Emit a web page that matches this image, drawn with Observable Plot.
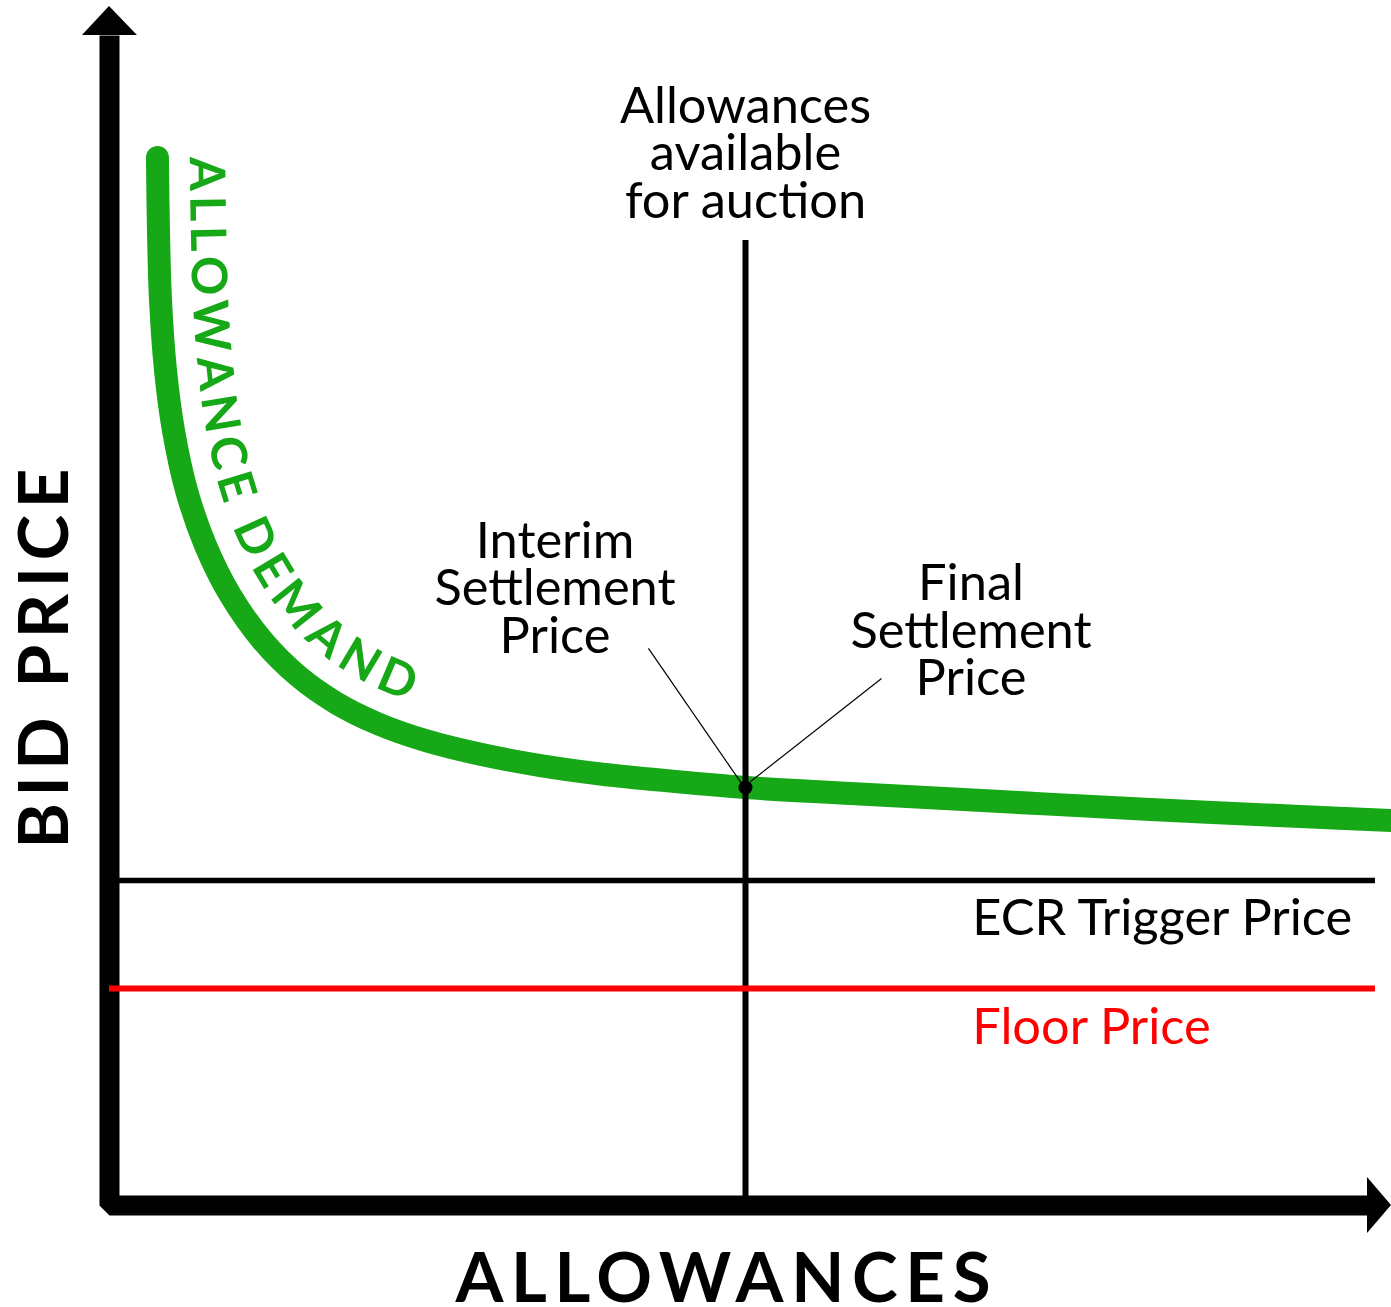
<!DOCTYPE html>
<html><head><meta charset="utf-8">
<script src="https://cdn.jsdelivr.net/npm/d3@7"></script>
<script src="https://cdn.jsdelivr.net/npm/@observablehq/plot@0.6"></script>
<style>body{margin:0;background:#fff}</style>
</head><body><div id="chart"></div>
<script>
// ---- Data (abstract units: allowances 0-100, bid price 0-100) ----
const demandX = [3.74,3.82,3.98,4.37,4.99,6.01,7.49,9.44,11.93,14.66,17.63,20.98,24.65,28.94,33.62,38.30,43.76,49.61,57.80,69.50,81.20,92.90,100.0];
const demandY = [87.41,81.32,75.48,69.64,64.64,59.63,55.05,50.88,47.12,44.20,41.95,40.16,38.78,37.63,36.69,35.99,35.40,34.86,34.36,33.69,33.03,32.44,32.11];
const demandLabel = "ALLOWANCE DEMAND";
const supplyQty = 49.61;          // allowances available for auction
const supplyTop = 80.48;
const settlePrice = 34.86;        // settlement price (intersection)
const ecrPrice = 27.11;           // ECR trigger price
const floorPrice = 18.10;         // floor price
const lineEnd = 98.75;
const axisX = [0, 0, 98.13];
const axisY = [97.58, 0, 0];
const arrowUpY = [97.58, 100];
const arrowUpX1 = [-2.11, 0];
const arrowUpX2 = [2.18, 0];
const arrowRightX = [98.13, 100];
const arrowRightY1 = [2.34, 0];
const arrowRightY2 = [-2.34, 0];
const supplyText = "Allowances\navailable\nfor auction";
const interimText = "Interim\nSettlement\nPrice";
const finalText = "Final\nSettlement\nPrice";
const ecrText = "ECR Trigger Price";
const floorText = "Floor Price";
const xTitle = "ALLOWANCES";
const yTitle = "BID PRICE";
const interimPos = [34.75, 46.12];
const finalPos = [67.20, 42.54];
const ecrPos = [67.30, 22.52];
const floorPos = [67.30, 13.51];
const supplyTextY = 82.40;
const xTitlePos = [26.99, -8.09];
const yTitlePos = [-4.99, 29.77];
const leaderInterim = [42.04, 46.46, 49.30, 35.20];
const leaderFinal = [60.22, 43.95, 50.0, 35.36];

// ---- Layout ----
const W = 1391, H = 1307;
const mL = 109, mR = 0, mT = 6, mB = 102;
const GREEN = "#17a817";
const FONT = "Lato";

const ctx = document.createElement("canvas").getContext("2d");
function tw(text, font) { ctx.font = font; return ctx.measureText(text).width; }

const F = 50 * (375 / tw(ecrText, `50px ${FONT}`) + 246 / tw("Settlement", `50px ${FONT}`)) / 2;
const LH = 47.5 / F;
const FB = 69;
const spX = (535 - tw(xTitle, `bold ${FB}px ${FONT}`)) / (xTitle.length - 1);
const spY = (380 - tw(yTitle, `bold ${FB}px ${FONT}`)) / (yTitle.length - 1);

// ---- Text along demand curve ----
const xS = d3.scaleLinear().domain([0, 100]).range([mL, W - mR]);
const yS = d3.scaleLinear().domain([0, 100]).range([H - mB, mT]);
const demand = demandX.map((x, i) => ({x, y: demandY[i]}));
const FC = 49, OFF = 48, TARGET = 612;
const curveLetters = (() => {
  const ns = "http://www.w3.org/2000/svg";
  const tmp = document.createElementNS(ns, "svg");
  document.body.appendChild(tmp);
  const path = document.createElementNS(ns, "path");
  path.setAttribute("d", d3.line().curve(d3.curveCatmullRom)(demand.map(d => [xS(d.x), yS(d.y)])));
  tmp.appendChild(path);
  const L = path.getTotalLength(), N = 1000;
  const s = d3.range(N + 1).map(i => { const p = path.getPointAtLength(L * i / N); return [p.x, p.y]; });
  tmp.remove();
  const off = s.map((p, i) => {
    const a = s[Math.max(0, i - 1)], b = s[Math.min(N, i + 1)];
    const ang = Math.atan2(b[1] - a[1], b[0] - a[0]);
    return {x: p[0] + Math.sin(ang) * OFF, y: p[1] - Math.cos(ang) * OFF, ang};
  });
  const cum = [0];
  for (let i = 1; i <= N; i++) cum.push(cum[i - 1] + Math.hypot(off[i].x - off[i - 1].x, off[i].y - off[i - 1].y));
  const font = `bold ${FC}px ${FONT}`;
  const chars = [...demandLabel];
  const widths = chars.map(c => tw(c, font));
  const sp = (TARGET - d3.sum(widths)) / (chars.length - 1);
  const out = [];
  let pos = 0;
  chars.forEach((c, k) => {
    const mid = pos + widths[k] / 2;
    pos += widths[k] + sp;
    if (c === " ") return;
    let i = d3.bisectLeft(cum, mid);
    i = Math.min(Math.max(i, 1), N);
    const t = (mid - cum[i - 1]) / (cum[i] - cum[i - 1] || 1);
    const px = off[i - 1].x + t * (off[i].x - off[i - 1].x);
    const py = off[i - 1].y + t * (off[i].y - off[i - 1].y);
    out.push({c, x: xS.invert(px), y: yS.invert(py), r: off[i].ang * 180 / Math.PI});
  });
  return out;
})();

const axisPts = axisX.map((x, i) => ({x, y: axisY[i]}));
const upHead = arrowUpY.map((y, i) => ({y, x1: arrowUpX1[i], x2: arrowUpX2[i]}));
const rightHead = arrowRightX.map((x, i) => ({x, y1: arrowRightY1[i], y2: arrowRightY2[i]}));

const chart = Plot.plot({
  width: W, height: H,
  marginLeft: mL, marginRight: mR, marginTop: mT, marginBottom: mB,
  x: {domain: [0, 100], axis: null},
  y: {domain: [0, 100], axis: null},
  style: {background: "white", fontFamily: FONT},
  marks: [
    Plot.line(axisPts, {x: "x", y: "y", stroke: "black", strokeWidth: 20, strokeLinejoin: "bevel", strokeLinecap: "butt"}),
    Plot.areaX(upHead, {y: "y", x1: "x1", x2: "x2", fill: "black"}),
    Plot.areaY(rightHead, {x: "x", y1: "y1", y2: "y2", fill: "black"}),
    Plot.line(demand, {x: "x", y: "y", stroke: GREEN, strokeWidth: 23, strokeLinecap: "round", curve: "catmull-rom"}),
    Plot.ruleX([supplyQty], {x: d => d, y1: 0, y2: supplyTop, stroke: "black", strokeWidth: 6}),
    Plot.ruleY([ecrPrice], {y: d => d, x1: 0.78, x2: lineEnd, stroke: "black", strokeWidth: 5.5}),
    Plot.ruleY([floorPrice], {y: d => d, x1: 0, x2: lineEnd, stroke: "#ff0000", strokeWidth: 6}),
    Plot.link([leaderInterim, leaderFinal], {x1: d => d[0], y1: d => d[1], x2: d => d[2], y2: d => d[3], stroke: "black", strokeWidth: 1.2}),
    Plot.dot([[supplyQty, settlePrice]], {x: d => d[0], y: d => d[1], r: 7, fill: "black", stroke: "none"}),
    Plot.text(curveLetters, {x: "x", y: "y", text: "c", rotate: "r", fill: GREEN, fontSize: FC, fontWeight: "bold", fontFamily: FONT, textAnchor: "middle", lineAnchor: "middle"}),
    Plot.text([supplyText], {x: supplyQty, y: supplyTextY, text: d => d, fontSize: F, lineHeight: LH, lineAnchor: "bottom", textAnchor: "middle", fill: "black", fontFamily: FONT}),
    Plot.text([interimText], {x: interimPos[0], y: interimPos[1], text: d => d, fontSize: F, lineHeight: LH, lineAnchor: "bottom", textAnchor: "middle", fill: "black", fontFamily: FONT}),
    Plot.text([finalText], {x: finalPos[0], y: finalPos[1], text: d => d, fontSize: F, lineHeight: LH, lineAnchor: "bottom", textAnchor: "middle", fill: "black", fontFamily: FONT}),
    Plot.text([ecrText], {x: ecrPos[0], y: ecrPos[1], text: d => d, fontSize: F, lineAnchor: "bottom", textAnchor: "start", fill: "black", fontFamily: FONT}),
    Plot.text([floorText], {x: floorPos[0], y: floorPos[1], text: d => d, fontSize: F, lineAnchor: "bottom", textAnchor: "start", fill: "#ff0000", fontFamily: FONT}),
    Plot.text([xTitle], {x: xTitlePos[0], y: xTitlePos[1], text: d => d, fontSize: FB, fontWeight: "bold", lineAnchor: "bottom", textAnchor: "start", fill: "black", fontFamily: FONT}),
    Plot.text([yTitle], {x: yTitlePos[0], y: yTitlePos[1], text: d => d, fontSize: FB, fontWeight: "bold", rotate: -90, lineAnchor: "middle", textAnchor: "start", fill: "black", fontFamily: FONT})
  ]
});
d3.select(chart).selectAll("text").each(function () {
  if (this.textContent === xTitle) this.style.letterSpacing = spX + "px";
  if (this.textContent === yTitle) this.style.letterSpacing = spY + "px";
});
document.getElementById("chart").appendChild(chart);
</script></body></html>
